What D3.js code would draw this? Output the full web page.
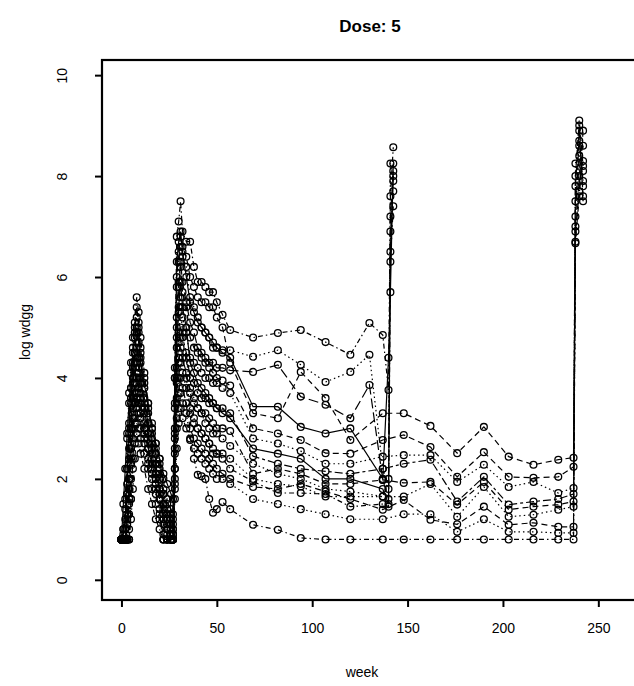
<!DOCTYPE html>
<html>
<head>
<meta charset="utf-8">
<script src="https://cdn.jsdelivr.net/npm/d3@7"></script>
<style>
  body { margin: 0; background: #fff; }
  text { font-family: "Liberation Sans", Arial, sans-serif; fill: #000; }
</style>
</head>
<body>
<div id="chart"></div>
<script>
// sampling weeks
var weeksEarly = [0, 1, 2, 3, 4, 5, 6, 7, 8, 9, 10, 12, 14, 16, 18, 20, 22, 24, 26,
                  27, 28, 29, 30, 31, 32, 34, 36, 38, 40, 42, 44, 46, 48, 50, 53];
var weeksMid = [57, 69, 82, 94, 107, 120, 130, 137];
var weeksSpike2 = [140, 141, 142.5];
var weeksLate = [148, 162, 176, 190, 203, 216, 229, 237];
var weeksSpike3 = [238, 240, 242];

// subjects re-dosed around week 140 (early, mid, spike)
var s1 = [0.8, 0.8, 0.8, 1.9, 2.9, 3.8, 4.6, 5.1, 5.6, 5.3, 4.8, 4.1, 3.5, 3.0, 2.6, 2.3, 2.0, 1.6, 1.3,
          1.2, 4.2, 6.8, 7.1, 7.5, 6.9, 6.7, 6.7, 6.2, 5.9, 5.9, 5.8, 5.7, 5.7, 5.5, 5.25,
          4.95, 4.8, 4.89, 4.95, 4.71, 4.46, 5.09, 4.85, 3.76, 7.6, 8.57];
var s2 = [0.8, 1.0, 1.6, 2.8, 3.7, 4.3, 4.8, 5.0, 5.2, 4.9, 4.5, 3.8, 3.3, 2.9, 2.5, 2.1, 1.7, 1.3, 1.1,
          0.9, 3.5, 5.8, 6.3, 6.6, 6.4, 6.2, 5.6, 5.4, 5.2, 5.0, 4.9, 4.8, 4.6, 4.6, 4.55,
          4.55, 4.42, 4.55, 4.26, 3.92, 4.12, 4.46, 2.2, 1.8, 8.25, 7.9];
var s3 = [0.8, 0.8, 0.8, 1.2, 2.0, 3.0, 3.9, 4.5, 4.9, 5.0, 4.4, 3.6, 3.1, 2.7, 2.3, 1.8, 1.3, 1.0, 0.8,
          0.8, 2.9, 5.2, 5.9, 6.3, 5.9, 5.5, 5.1, 4.9, 4.6, 4.5, 4.4, 4.3, 4.3, 4.2, 4.2,
          4.15, 4.12, 4.26, 3.63, 3.47, 3.2, 3.86, 1.98, 1.6, 7.2, 8.1];
var s4 = [0.8, 0.9, 1.2, 2.2, 3.1, 3.8, 4.2, 4.5, 4.6, 4.4, 4.0, 3.4, 2.9, 2.5, 2.1, 1.8, 1.5, 1.3, 1.2,
          1.0, 3.0, 4.6, 5.4, 5.9, 5.4, 5.0, 4.3, 4.1, 3.9, 3.8, 3.7, 3.6, 3.5, 3.4, 3.3,
          3.2, 2.6, 2.5, 2.4, 2.0, 2.0, null, 1.8, 1.5, 6.5, 8.0];
var s5 = [0.8, 0.8, 0.8, 0.8, 1.8, 2.6, 3.4, 3.9, 4.3, 4.1, 3.6, 3.0, 2.6, 2.3, 2.0, 1.6, 1.2, 0.9, 0.8,
          0.8, 2.2, 4.0, 4.9, 5.4, 4.9, 4.4, 3.8, 3.6, 3.4, 3.3, 3.1, 3.0, 2.9, 2.9, 2.8,
          2.65, 2.3, 2.1, 2.0, 1.8, 1.75, null, 1.65, 2.0, 6.9, 7.7];
var s6 = [0.8, 0.8, 0.8, 0.8, 1.5, 2.3, 3.0, 3.5, 3.9, 3.7, 3.3, 2.8, 2.4, 2.1, 1.8, 1.3, 0.9, 0.8, 0.8,
          0.8, 1.9, 3.6, 4.4, 4.8, 4.4, 4.0, 3.4, 3.2, 3.0, 2.9, 2.8, 2.7, 2.5, 2.5, 2.4,
          2.2, 1.95, 1.72, 1.72, 1.7, 1.45, null, 1.5, 1.45, 6.3, 7.4];
var s7 = [0.8, 1.5, 2.2, 2.9, 3.5, 4.1, 4.5, 4.8, 5.0, 4.7, 4.3, 3.9, 3.4, 3.0, 2.7, 2.4, 2.1, 1.9, 1.7,
          1.6, 4.0, 6.3, 6.7, 6.9, 6.5, 6.0, 5.5, 5.3, 5.1, 5.0, 4.9, 4.8, 4.7, 4.6, 4.5,
          4.4, 3.43, 3.43, 3.03, 2.9, 3.0, null, 2.0, 4.4, 5.7, 8.25];

// subjects followed to week 237 then re-dosed (early, mid, late, spike)
var l1 = [0.8, 0.8, 0.8, 1.7, 2.6, 3.5, 4.3, 4.9, 5.4, 5.1, 4.6, 4.0, 3.5, 3.1, 2.7, 2.4, 1.8, 1.5, 1.4,
          1.3, 4.0, 6.0, 6.5, 6.8, 6.6, 6.4, 6.0, 5.8, 5.6, 5.5, 5.5, 5.4, 5.4, 5.2, 5.0,
          4.3, 3.3, 3.2, 4.12, 3.6, 2.77, null, 3.3,
          3.3, 3.05, 2.51, 3.03, 2.44, 2.28, 2.38, 2.42, 8.0, 9.1, 8.2];
var l2 = [0.8, 1.0, 1.4, 2.2, 3.0, 3.6, 4.0, 4.3, 4.4, 4.2, 3.9, 3.5, 3.1, 2.8, 2.5, 2.2, 1.7, 1.4, 1.3,
          1.1, 3.4, 5.0, 5.8, 6.2, 5.7, 5.4, 4.8, 4.6, 4.5, 4.4, 4.3, 4.2, 4.1, 4.0, 3.95,
          3.85, 3.0, 2.9, 2.77, 2.51, 2.5, null, 2.77,
          2.87, 2.63, 2.04, 2.53, 2.04, 2.02, 2.04, 2.24, 7.0, 8.9, 7.6];
var l3 = [0.8, 0.8, 0.8, 1.1, 1.6, 2.4, 3.2, 3.7, 4.1, 4.0, 3.7, 3.3, 2.9, 2.6, 2.3, 2.0, 1.5, 1.1, 1.0,
          0.9, 2.8, 4.8, 5.3, 5.6, 5.2, 4.9, 4.4, 4.3, 4.2, 4.1, 4.0, 4.0, 3.9, 3.9, 3.8,
          3.7, 2.8, 2.7, 2.55, 2.3, 2.3, null, 2.44,
          2.47, 2.47, 1.94, 2.28, 1.84, 1.94, 1.72, 1.82, 8.25, 8.6, 7.8];
var l4 = [0.8, 0.8, 0.8, 0.8, 0.8, 1.6, 2.4, 3.1, 3.6, 3.5, 3.2, 2.9, 2.6, 2.3, 2.0, 1.7, 1.1, 0.8, 0.8,
          0.8, 2.5, 4.2, 4.7, 5.0, 4.8, 4.5, 4.0, 3.9, 3.7, 3.6, 3.6, 3.5, 3.5, 3.4, 3.4,
          3.3, 2.45, 2.3, 2.2, 2.15, 2.1, null, 2.2,
          2.3, 2.38, 1.55, 2.04, 1.49, 1.55, 1.6, 1.7, 6.67, 8.0, 8.3];
var l5 = [0.8, 0.8, 1.0, 1.7, 2.4, 3.0, 3.6, 3.9, 4.0, 3.8, 3.5, 3.1, 2.7, 2.4, 2.1, 1.8, 1.4, 1.2, 1.1,
          1.0, 2.6, 3.9, 4.3, 4.6, 4.4, 4.1, 3.7, 3.5, 3.4, 3.3, 3.3, 3.2, 3.1, 3.0, 3.0,
          2.95, 2.1, 2.2, 2.1, 1.9, 1.9, null, 1.98,
          1.92, 1.94, 1.49, 1.94, 1.39, 1.45, 1.49, 1.55, 7.8, 9.0, 7.5];
var l6 = [0.8, 0.8, 0.8, 0.8, 1.3, 2.0, 2.8, 3.2, 3.4, 3.3, 3.0, 2.7, 2.3, 2.0, 1.7, 1.4, 0.8, 0.8, 0.8,
          0.8, 2.2, 3.5, 4.0, 4.3, 4.1, 3.8, 3.3, 3.1, 3.0, 2.9, 2.8, 2.7, 2.6, 2.5, 2.5,
          2.4, 2.0, 1.9, 1.85, 1.65, 1.65, null, 1.65,
          1.65, 1.9, 1.25, 1.84, 1.25, 1.29, 1.39, 1.45, 7.5, 8.4, 8.1];
var l7 = [0.8, 0.8, 0.8, 1.3, 2.0, 2.6, 3.2, 3.5, 3.7, 3.5, 3.3, 3.0, 2.6, 2.2, 1.9, 1.6, 1.2, 1.0, 0.9,
          0.9, 2.0, 3.2, 3.7, 4.0, 3.8, 3.5, 3.0, 2.8, 2.7, 2.6, 2.5, 2.4, 2.3, 2.2, 2.1,
          2.0, 1.84, 1.8, 1.9, 1.75, 1.6, null, 1.39,
          1.58, 1.19, 1.1, 1.45, 1.09, 1.13, 1.05, 1.05, 6.9, 7.7, 8.6];
var l8 = [0.8, 0.8, 0.8, 0.8, 1.0, 1.6, 2.2, 2.7, 3.1, 3.0, 2.8, 2.5, 2.2, 1.8, 1.5, 1.2, 0.8, 0.8, 0.8,
          0.8, 1.8, 3.0, 3.4, 3.7, 3.5, 3.3, 2.8, 2.6, 2.5, 2.4, 2.3, 2.2, 2.1, 2.0, 2.0,
          1.9, 1.6, 1.5, 1.4, 1.3, 1.2, null, 1.2,
          1.3, 1.3, 0.95, 1.2, 0.95, 0.95, 0.93, 0.93, 7.2, 8.7, 7.9];
var l9 = [0.8, 0.8, 0.8, 0.8, 0.8, 1.2, 1.8, 2.4, 2.9, 2.7, 2.5, 2.2, 1.8, 1.5, 1.2, 1.0, 0.8, 0.8, 0.8,
          0.8, 1.6, 2.6, 3.1, 3.4, 3.2, 3.0, 2.77, 2.4, 2.08, 2.05, 2.0, 1.6, 1.33, 1.4, 1.54,
          1.4, 1.09, 0.99, 0.83, 0.8, 0.8, null, 0.8,
          0.8, 0.8, 0.8, 0.8, 0.8, 0.8, 0.8, 0.8, 6.7, 7.6, 8.9];

var xTicks = [0, 50, 100, 150, 200, 250];
var yTicks = [0, 2, 4, 6, 8, 10];

var weeksS = weeksEarly.concat(weeksMid, weeksSpike2);
var weeksL = weeksEarly.concat(weeksMid, weeksLate, weeksSpike3);

// R line types per subject
var dashOf = {
  solid: "", dashed: "6,4", dotted: "1.5,3", dotdash: "1.5,3,5,3",
  longdash: "10,4", twodash: "3,3,8,3"
};

var subjects = [
  {w: weeksS, v: s1, lty: "dotdash"}, {w: weeksL, v: l1, lty: "dashed"},
  {w: weeksS, v: s2, lty: "dotted"},  {w: weeksL, v: l2, lty: "dashed"},
  {w: weeksS, v: s3, lty: "longdash"}, {w: weeksL, v: l3, lty: "dotted"},
  {w: weeksS, v: s4, lty: "solid"},   {w: weeksL, v: l4, lty: "twodash"},
  {w: weeksS, v: s5, lty: "dotted"},  {w: weeksL, v: l5, lty: "dashed"},
  {w: weeksS, v: s6, lty: "dotdash"}, {w: weeksL, v: l6, lty: "dotted"},
  {w: weeksS, v: s7, lty: "solid"},   {w: weeksL, v: l7, lty: "dashed"},
  {w: weeksL, v: l8, lty: "dotted"},  {w: weeksL, v: l9, lty: "dotdash"}
];

var width = 634, height = 686;
var plotLeft = 102, plotRight = 638, plotTop = 60, plotBottom = 600;

var svg = d3.select("#chart")
  .append("svg")
    .attr("width", width)
    .attr("height", height);

var x = d3.scaleLinear().domain([-10.2, 270.8]).range([plotLeft, plotRight]);
var y = d3.scaleLinear().domain([-0.4, 10.3]).range([plotBottom, plotTop]);

var line = d3.line()
  .x(function(d) { return x(d[0]); })
  .y(function(d) { return y(d[1]); });

subjects.forEach(function(s) {
  var pts = s.w.map(function(w, j) { return [w, s.v[j]]; })
    .filter(function(d) { return d[1] != null; });

  svg.append("path")
    .datum(pts)
    .attr("d", line)
    .attr("fill", "none")
    .attr("stroke", "#000")
    .attr("stroke-width", 1.2)
    .attr("stroke-dasharray", dashOf[s.lty]);

  svg.append("g").selectAll("circle")
    .data(pts)
    .enter()
    .append("circle")
      .attr("cx", function(d) { return x(d[0]); })
      .attr("cy", function(d) { return y(d[1]); })
      .attr("r", 3.4)
      .attr("fill", "none")
      .attr("stroke", "#000")
      .attr("stroke-width", 1.3);
});

// frame
svg.append("rect")
  .attr("x", plotLeft)
  .attr("y", plotTop)
  .attr("width", plotRight - plotLeft)
  .attr("height", plotBottom - plotTop)
  .attr("fill", "none")
  .attr("stroke", "#000")
  .attr("stroke-width", 2.2);

var xAxis = svg.append("g")
  .attr("transform", "translate(0," + plotBottom + ")")
  .call(d3.axisBottom(x).tickValues(xTicks).tickSize(7).tickPadding(16));
xAxis.select(".domain").remove();
xAxis.selectAll(".tick line").attr("stroke-width", 2);
xAxis.selectAll(".tick text")
  .style("font-size", "14px")
  .style("font-family", "Liberation Sans, Arial, sans-serif");

var yAxis = svg.append("g")
  .attr("transform", "translate(" + plotLeft + ",0)")
  .call(d3.axisLeft(y).tickValues(yTicks).tickSize(7));
yAxis.select(".domain").remove();
yAxis.selectAll(".tick line").attr("stroke-width", 2);
yAxis.selectAll(".tick text")
  .attr("x", 0)
  .attr("y", -40)
  .attr("dy", "0.35em")
  .attr("transform", "rotate(-90)")
  .attr("text-anchor", "middle")
  .style("font-size", "14px")
  .style("font-family", "Liberation Sans, Arial, sans-serif");

svg.append("text")
  .attr("x", 370)
  .attr("y", 32)
  .attr("text-anchor", "middle")
  .style("font-size", "17px")
  .style("font-weight", "bold")
  .text("Dose: 5");

svg.append("text")
  .attr("x", 362)
  .attr("y", 677)
  .attr("text-anchor", "middle")
  .style("font-size", "14px")
  .text("week");

svg.append("text")
  .attr("transform", "translate(30,332) rotate(-90)")
  .attr("text-anchor", "middle")
  .style("font-size", "14px")
  .text("log wdgg");
</script>
</body>
</html>
